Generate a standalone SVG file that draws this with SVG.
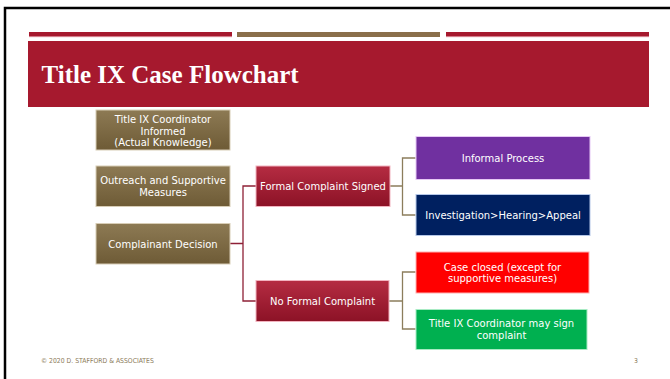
<svg xmlns="http://www.w3.org/2000/svg" width="670" height="379" viewBox="0 0 670 379">
<defs>
<linearGradient id="gBrown" x1="0" y1="0" x2="0" y2="1">
<stop offset="0" stop-color="#8d7a54"/><stop offset="1" stop-color="#6e5b36"/>
</linearGradient>
<linearGradient id="gRed" x1="0" y1="0" x2="0" y2="1">
<stop offset="0" stop-color="#b52c42"/><stop offset="1" stop-color="#8c1226"/>
</linearGradient>
<style>
.nb{fill:url(#gBrown);stroke:#d8cdb6;stroke-width:1}
.nr{fill:url(#gRed);stroke:#f2b3bf;stroke-width:1}
.t{font-family:"DejaVu Sans",sans-serif;font-size:10px;fill:#ffffff;text-anchor:middle}
.c1{fill:none;stroke:#8e2036;stroke-width:1.3}
.c2{fill:none;stroke:#8c7d5c;stroke-width:1.3}
.ft{font-family:"DejaVu Sans Condensed","DejaVu Sans",sans-serif;font-size:6.8px;fill:#8c7b5a}
</style>
</defs>
<rect width="670" height="379" fill="#ffffff"/>
<path d="M5 379 V8 H670" fill="none" stroke="#000000" stroke-width="2.5"/>
<g id="header">
<rect x="29" y="32" width="203" height="5" fill="#a6192e"/>
<rect x="29" y="36.3" width="203" height="0.9" fill="#e9a8b3"/>
<rect x="237" y="32" width="203" height="5" fill="#8a6f4a"/>
<rect x="446" y="32" width="203" height="5" fill="#a6192e"/>
<rect x="446" y="36.3" width="203" height="0.9" fill="#e9a8b3"/>
<rect x="28" y="41" width="621" height="66" fill="#a6192e"/>
<text x="41.5" y="83.3" font-family="'Liberation Serif',serif" font-weight="bold" font-size="25" fill="#ffffff">Title IX Case Flowchart</text>
</g>
<g id="connectors">
<path class="c1" d="M230 243.5 H243 M256 186 H243 V301 H256"/>
<path class="c2" d="M390 186 H402.5 M415.5 158 H402.5 V215 H415.5"/>
<path class="c2" d="M389 301 H402.5 M415.5 272 H402.5 V329 H415.5"/>
</g>
<g id="n_informed">
<rect class="nb" x="96" y="110" width="134" height="40"/>
<text class="t" x="163" y="123">Title IX Coordinator</text>
<text class="t" x="163" y="134.5">Informed</text>
<text class="t" x="163" y="146">(Actual Knowledge)</text>
</g>
<g id="n_outreach">
<rect class="nb" x="96" y="166" width="134" height="40.5"/>
<text class="t" x="163" y="184">Outreach and Supportive</text>
<text class="t" x="163" y="195.5">Measures</text>
</g>
<g id="n_decision">
<rect class="nb" x="96" y="223.5" width="134" height="40.5"/>
<text class="t" x="163" y="247.5">Complainant Decision</text>
</g>
<g id="n_formal">
<rect class="nr" x="256" y="166" width="134" height="40.5"/>
<text class="t" x="323" y="190">Formal Complaint Signed</text>
</g>
<g id="n_noformal">
<rect class="nr" x="256" y="280.5" width="133" height="41"/>
<text class="t" x="322.5" y="305">No Formal Complaint</text>
</g>
<g id="n_informal">
<rect x="416" y="136.5" width="174" height="43" fill="#7030a0" stroke="#e6c8f5" stroke-width="1"/>
<text class="t" x="503" y="162">Informal Process</text>
</g>
<g id="n_investigation">
<rect x="416" y="194.5" width="174" height="41" fill="#002060" stroke="#b5c7e8" stroke-width="1"/>
<text class="t" x="503" y="219">Investigation&gt;Hearing&gt;Appeal</text>
</g>
<g id="n_closed">
<rect x="416" y="252" width="173" height="41" fill="#ff0000" stroke="#ffb0b0" stroke-width="1"/>
<text class="t" x="502.5" y="270.5">Case closed (except for</text>
<text class="t" x="502.5" y="282">supportive measures)</text>
</g>
<g id="n_maysign">
<rect x="416" y="309.5" width="171" height="40" fill="#00b050" stroke="#a8ebc4" stroke-width="1"/>
<text class="t" x="501.5" y="327">Title IX Coordinator may sign</text>
<text class="t" x="501.5" y="338.5">complaint</text>
</g>
<g id="footer">
<text class="ft" x="41" y="363">© 2020 D. STAFFORD &amp; ASSOCIATES</text>
<text class="ft" x="634" y="363">3</text>
</g>
</svg>
